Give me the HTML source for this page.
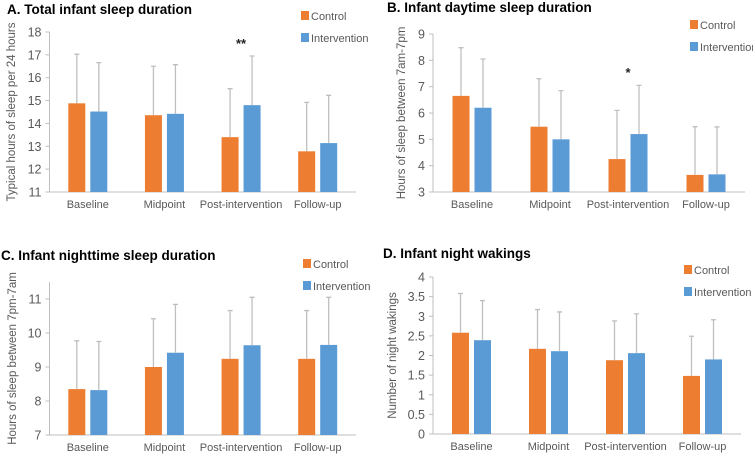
<!DOCTYPE html>
<html><head><meta charset="utf-8"><style>
body{margin:0;background:#fff;width:753px;height:455px;overflow:hidden}
svg{display:block;font-family:"Liberation Sans",Arial,sans-serif}
</style></head><body>
<svg id="s" width="753" height="455"></svg>
<script>
const categories=["Baseline","Midpoint","Post-intervention","Follow-up"];
const aControl=[14.88,14.36,13.4,12.78];
const aControlTop=[17.03,16.5,15.52,14.92];
const aInterv=[14.52,14.42,14.8,13.14];
const aIntervTop=[16.66,16.57,16.95,15.23];
const aTicks=[11,12,13,14,15,16,17,18];
const bControl=[6.65,5.48,4.25,3.65];
const bControlTop=[8.48,7.3,6.1,5.48];
const bInterv=[6.2,5.0,5.2,3.67];
const bIntervTop=[8.05,6.85,7.05,5.47];
const bTicks=[3,4,5,6,7,8,9];
const cControl=[8.35,9.0,9.24,9.24];
const cControlTop=[9.77,10.42,10.66,10.66];
const cInterv=[8.32,9.42,9.64,9.65];
const cIntervTop=[9.75,10.84,11.05,11.05];
const cTicks=[7,8,9,10,11];
const dControl=[2.58,2.17,1.88,1.48];
const dControlTop=[3.58,3.17,2.88,2.49];
const dInterv=[2.39,2.11,2.06,1.9];
const dIntervTop=[3.4,3.11,3.06,2.91];
const dTicks=[0,0.5,1,1.5,2,2.5,3,3.5,4];

const NS="http://www.w3.org/2000/svg";
const svg=document.getElementById('s');
function mk(tag,attrs,parent,text){const e=document.createElementNS(NS,tag);for(const k in attrs)e.setAttribute(k,attrs[k]);if(text!==undefined)e.textContent=text;(parent||svg).appendChild(e);return e;}

function panel(o){
  const g=mk('g',{});
  
  
  const y=v=>o.y1-(v-o.min)/(o.max-o.min)*(o.y1-o.y0);
  const cw=(o.x1-o.x0)/categories.length;
  const cx=i=>o.x0+cw*(i+0.5);
  const t=mk('text',{x:o.tx,y:o.ty,'font-size':13.5,'font-weight':'bold',fill:'#000'},g,o.title);
  
  
  const ax=mk('line',{x1:o.x0,x2:o.x0,y1:o.axTop,y2:o.y1,stroke:'#bfbfbf','stroke-width':1},g);
  
  
  const bx=mk('line',{x1:o.x0,x2:o.x1,y1:o.y1,y2:o.y1,stroke:'#bfbfbf','stroke-width':1},g);
  
  
  o.ticks.forEach(v=>{
    mk('line',{x1:o.x0-4,x2:o.x0,y1:y(v),y2:y(v),stroke:'#bfbfbf'},g);
    const tl=mk('text',{x:o.x0-8,y:y(v)+4.5,'font-size':12.5,fill:'#595959','text-anchor':'end'},g,String(v));
    
    
  });
  const yl=mk('text',{transform:`translate(${o.ylx},${(o.axTop+o.y1)/2}) rotate(-90)`,'font-size':11.5,fill:'#595959','text-anchor':'middle'},g,o.ylabel);
  
  
  const series=[[o.c,o.ct,'#ED7D31',-19.5,'control'],[o.i,o.it,'#5B9BD5',2.5,'intervention']];
  categories.forEach((c,i)=>{
    series.forEach(s=>{
      const x=cx(i)+s[3],top=y(s[0][i]);
      const r=mk('rect',{x:x,y:top,width:17,height:o.y1-top,fill:s[2]},g);
      
      
      const ey=y(s[1][i]);
      const el=mk('path',{d:`M${x+8.5},${top}V${ey}M${x+6},${ey}H${x+11}`,stroke:'#bfbfbf','stroke-width':1.3,fill:'none'},g);
      
      
    });
    const cl=mk('text',{x:cx(i),y:o.labY,'font-size':11,fill:'#595959','text-anchor':'middle'},g,c);
    
    
  });
  if(o.star){
    const st=mk('text',{x:cx(2),y:o.starY,'font-size':13,'font-weight':'bold',fill:'#222','text-anchor':'middle'},g,o.star);
    
    
  }
  [['Control','#ED7D31',o.ly],['Intervention','#5B9BD5',o.ly+22]].forEach(L=>{
    mk('rect',{x:o.lx,y:L[2]-5,width:8,height:9,fill:L[1]},g);
    const lt=mk('text',{x:o.lx+10,y:L[2]+4,'font-size':11,fill:'#595959'},g,L[0]);
    
    
  });
}
panel({key:'a',title:'A. Total infant sleep duration',tx:7,ty:14,x0:49.5,x1:356,y0:32,y1:192,axTop:32,min:11,max:18,ticks:aTicks,c:aControl,ct:aControlTop,i:aInterv,it:aIntervTop,ylabel:'Typical hours of sleep per 24 hours',ylx:15,labY:208,lx:301,ly:16,star:'**',starY:48});
panel({key:'b',title:'B. Infant daytime sleep duration',tx:387,ty:12,x0:433,x1:745,y0:34,y1:192,axTop:34,min:3,max:9,ticks:bTicks,c:bControl,ct:bControlTop,i:bInterv,it:bIntervTop,ylabel:'Hours of sleep between 7am-7pm',ylx:405,labY:208,lx:690,ly:25,star:'*',starY:77});
panel({key:'c',title:'C. Infant nighttime sleep duration',tx:1,ty:260,x0:49.5,x1:356,y0:299,y1:435,axTop:282,min:7,max:11,ticks:cTicks,c:cControl,ct:cControlTop,i:cInterv,it:cIntervTop,ylabel:'Hours of sleep between 7pm-7am',ylx:16,labY:451,lx:303,ly:264});
panel({key:'d',title:'D. Infant night wakings',tx:383,ty:258,x0:433,x1:741,y0:277,y1:434,axTop:277,min:0,max:4,ticks:dTicks,c:dControl,ct:dControlTop,i:dInterv,it:dIntervTop,ylabel:'Number of night wakings',ylx:396,labY:450,lx:684,ly:270});
</script>
</body></html>
